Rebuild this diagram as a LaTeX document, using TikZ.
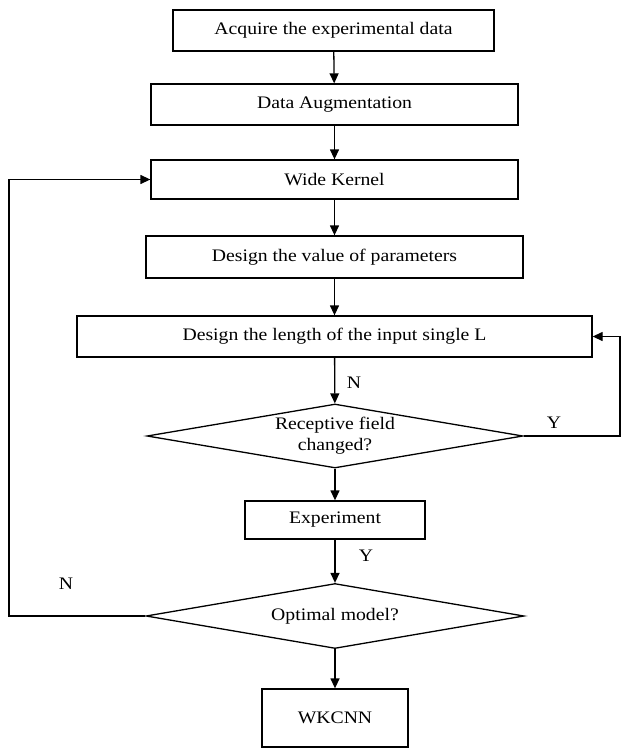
\documentclass[tikz,border=0pt]{standalone}
\usepackage{fontspec}
\setmainfont[FakeStretch=1.12]{Liberation Serif}
\usetikzlibrary{shapes.geometric,arrows.meta}
\begin{document}
\begin{tikzpicture}[x=1pt,y=-1pt,
  every node/.style={font=\fontsize{17.6}{21}\selectfont},
  box/.style={draw,line width=1.3pt,inner sep=0pt,align=center},
  dec/.style={draw,line width=1.3pt,diamond,inner sep=0pt,align=center},
  flow/.style={line width=1.3pt,-{Triangle[length=10pt,width=9pt]}},
  lbl/.style={inner sep=0pt}]
\useasboundingbox (0,0) rectangle (621,749);
\node[box,minimum width=321pt,minimum height=41pt] (b1) at (333.5,30.5) {Acquire the experimental data};
\node[box,minimum width=367pt,minimum height=41pt] (b2) at (334.5,104.5) {Data Augmentation};
\node[box,minimum width=367pt,minimum height=39pt] (b3) at (334.5,179.5) {Wide Kernel};
\node[box,minimum width=377pt,minimum height=42pt] (b4) at (334.5,257) {Design the value of parameters};
\node[box,minimum width=515pt,minimum height=41pt] (b5) at (334.5,336.5) {Design the length of the input single L};
\node[dec,aspect=5.9,minimum width=376pt,minimum height=64pt] (d1) at (335,436) {Receptive field\\changed?};
\node[box,minimum width=180pt,minimum height=38pt] (b6) at (335,520) {Experiment};
\node[dec,aspect=5.8,minimum width=378pt,minimum height=65pt] (d2) at (335,616) {Optimal model?};
\node[box,minimum width=146pt,minimum height=58pt] (b7) at (335,718) {WKCNN};
\coordinate (r1) at (620,436);
\coordinate (l1) at (9,616);
\draw[flow] (b1) -- (b2);
\draw[flow] (b2) -- (b3);
\draw[flow] (b3) -- (b4);
\draw[flow] (b4) -- (b5);
\draw[flow] (b5) -- (d1);
\draw[flow] (d1) -- (b6);
\draw[flow] (b6) -- (d2);
\draw[flow] (d2) -- (b7);
\draw[flow] (d1.east) -- (r1) |- (b5.east);
\draw[flow] (d2.west) -- (l1) |- (b3.west);
\node[lbl] (n1) at (354,383) {N};
\node[lbl] (y1) at (554,423) {Y};
\node[lbl] (y2) at (366,556) {Y};
\node[lbl] (n2) at (66,584) {N};
\end{tikzpicture}
\end{document}
